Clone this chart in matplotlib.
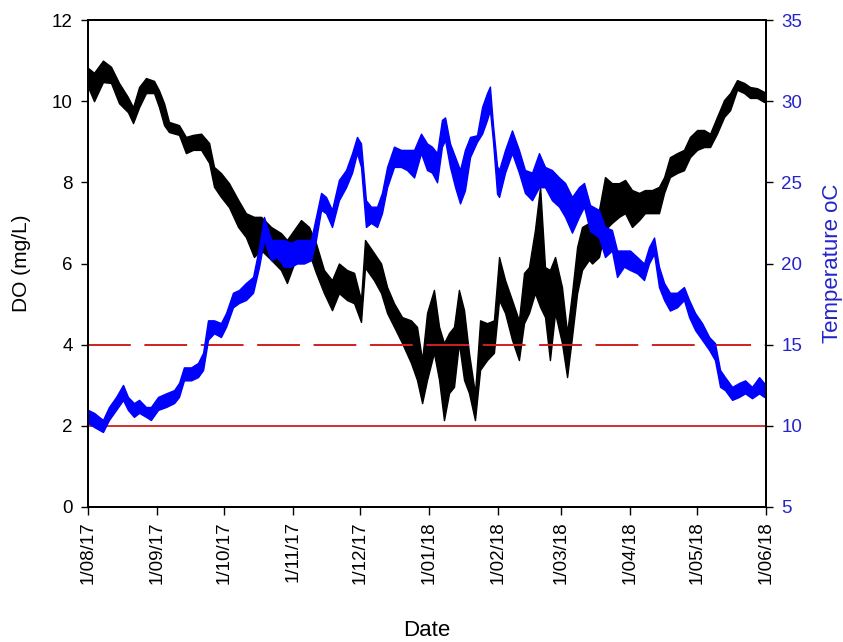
import matplotlib
matplotlib.use("Agg")
import matplotlib.pyplot as plt
import numpy as np
import pandas as pd

plt.rcParams["font.family"] = ["Liberation Sans", "DejaVu Sans"]

start = pd.Timestamp("2017-08-01")

# DO record (mg/L): day offset from 1/08/17, upper and lower edge of the daily band
do_day = [0.0, 2.7, 6.7, 10.3, 13.9, 17.9, 20.2, 22.9, 26.0, 29.6, 31.8, 34.1, 36.3,
          40.8, 43.9, 47.1, 50.7, 54.3, 56.5, 59.6, 63.2, 67.3, 70.8, 74.4, 77.6,
          82.1, 86.5, 89.2, 92.4, 95.5, 99.1, 102.2, 105.8, 109.4, 112.5, 116.1,
          119.3, 122.4, 124.2, 128.2, 131.4, 134.1, 137.2, 140.8, 144.8, 147.5,
          149.8, 152.0, 155.1, 157.4, 159.6, 161.9, 164.1, 166.3, 168.6, 170.8,
          173.5, 175.8, 178.9, 182.0, 184.3, 187.0, 190.1, 193.2, 195.5, 197.7,
          200.4, 202.7, 204.9, 207.1, 209.4, 212.5, 214.8, 217.0, 219.3, 221.5,
          224.6, 226.0, 229.1, 231.8, 234.9, 238.1, 240.8, 243.9, 247.1, 249.7,
          252.9, 256.0, 258.3, 260.9, 264.1, 267.2, 269.9, 273.1, 276.2, 278.9,
          282.0, 285.2, 287.9, 291.0, 294.2, 296.8, 300.0, 303.1]
do_hi = [10.82, 10.7, 11.0, 10.85, 10.45, 10.1, 9.85, 10.35, 10.57, 10.5, 10.27, 9.95,
         9.49, 9.41, 9.12, 9.17, 9.2, 8.97, 8.38, 8.23, 7.98, 7.57, 7.24, 7.15, 7.15,
         6.9, 6.75, 6.58, 6.83, 7.07, 6.9, 6.5, 5.84, 5.59, 6.0, 5.84, 5.77, 5.1,
         6.58, 6.26, 6.0, 5.42, 5.02, 4.68, 4.6, 4.44, 3.62, 4.78, 5.35, 4.44, 4.04,
         4.29, 4.44, 5.35, 4.85, 3.8, 2.8, 4.6, 4.53, 4.6, 6.16, 5.59, 5.1, 4.6,
         5.77, 5.91, 6.83, 7.89, 5.91, 5.84, 6.16, 5.42, 4.29, 5.27, 6.41, 6.9,
         7.0, 7.32, 7.32, 8.13, 7.98, 7.98, 8.06, 7.81, 7.74, 7.81, 7.81, 7.89,
         8.13, 8.62, 8.72, 8.8, 9.12, 9.29, 9.29, 9.2, 9.61, 10.03, 10.2, 10.52,
         10.45, 10.35, 10.32, 10.23]
do_lo = [10.35, 10.0, 10.47, 10.45, 9.95, 9.73, 9.46, 9.85, 10.2, 10.2, 9.86, 9.41,
         9.24, 9.17, 8.72, 8.8, 8.8, 8.48, 7.89, 7.64, 7.39, 6.9, 6.65, 6.16, 6.33,
         6.09, 5.84, 5.52, 6.0, 6.16, 6.26, 5.77, 5.27, 4.85, 5.27, 5.1, 5.02, 4.56,
         5.9, 5.59, 5.27, 4.78, 4.44, 4.04, 3.55, 3.13, 2.56, 3.13, 3.8, 3.13, 2.14,
         2.81, 2.96, 4.04, 3.13, 2.81, 2.14, 3.38, 3.62, 3.8, 5.1, 4.78, 4.12, 3.62,
         4.53, 4.78, 5.27, 4.93, 4.68, 3.62, 4.78, 4.04, 3.2, 4.19, 5.27, 5.84,
         6.09, 6.0, 6.16, 6.83, 7.0, 7.15, 7.24, 6.9, 7.07, 7.24, 7.24, 7.24,
         7.74, 8.13, 8.23, 8.3, 8.62, 8.8, 8.87, 8.87, 9.2, 9.61, 9.78, 10.28,
         10.2, 10.08, 10.08, 9.98]

# Water temperature (oC): day offset, upper and lower edge of the daily band
t_day = [0.0, 2.7, 6.7, 9.4, 12.6, 15.7, 17.9, 20.6, 22.9, 26.0, 28.2, 31.4, 35.0,
         38.6, 40.8, 43.0, 46.2, 49.3, 51.6, 53.8, 56.5, 59.6, 61.9, 65.0, 67.7,
         70.8, 74.0, 76.7, 78.9, 82.1, 84.7, 87.9, 91.0, 93.7, 96.8, 100.0, 102.2,
         104.5, 106.7, 109.4, 112.5, 115.7, 118.4, 120.6, 122.4, 124.6, 126.9,
         129.6, 131.8, 134.1, 137.2, 140.3, 143.0, 146.2, 149.3, 152.0, 154.2,
         156.5, 158.7, 160.1, 162.3, 164.6, 166.8, 169.0, 171.3, 174.4, 176.7,
         178.9, 180.2, 181.6, 183.4, 184.3, 187.0, 190.1, 193.2, 195.9, 199.1,
         202.2, 204.9, 208.0, 211.2, 213.9, 217.0, 220.1, 222.4, 225.1, 229.1,
         231.8, 234.9, 237.2, 240.3, 243.0, 246.2, 249.3, 251.5, 253.8, 256.0,
         258.3, 260.9, 264.1, 267.2, 269.5, 272.2, 275.3, 278.5, 281.1, 283.4,
         285.6, 288.8, 291.9, 294.6, 297.7, 300.9, 303.1]
t_hi = [10.98, 10.8, 10.36, 11.16, 11.78, 12.52, 11.78, 11.4, 11.6, 11.16, 11.16,
        11.78, 12.0, 12.2, 12.64, 13.6, 13.6, 13.87, 14.5, 16.5, 16.5, 16.33, 16.95,
        18.2, 18.37, 18.8, 19.17, 21.0, 22.87, 21.45, 21.45, 21.45, 21.27, 21.45,
        21.45, 21.45, 22.87, 24.35, 24.1, 23.3, 25.15, 25.76, 26.8, 27.8, 27.4,
        23.9, 23.5, 23.5, 24.35, 25.95, 27.2, 27.0, 27.0, 27.0, 28.0, 27.4, 27.2,
        26.8, 28.85, 29.0, 27.4, 26.56, 25.76, 27.0, 27.8, 27.9, 29.65, 30.5, 30.9,
        28.5, 26.0, 25.76, 27.0, 28.2, 27.0, 25.76, 25.6, 26.8, 25.95, 25.76, 25.3,
        24.96, 24.1, 24.7, 24.96, 23.6, 23.3, 22.25, 22.07, 20.8, 20.8, 20.8, 20.4,
        20.0, 21.0, 21.6, 19.8, 18.8, 18.2, 18.2, 18.55, 17.75, 16.95, 16.33, 15.47,
        15.1, 13.44, 13.0, 12.4, 12.64, 12.8, 12.4, 13.0, 12.64]
t_lo = [10.18, 9.93, 9.62, 10.36, 10.98, 11.59, 10.98, 10.55, 10.8, 10.55, 10.36,
        10.98, 11.16, 11.4, 11.78, 12.8, 12.8, 13.0, 13.44, 15.3, 15.7, 15.47, 16.1,
        17.3, 17.57, 17.75, 18.2, 19.8, 21.45, 20.2, 20.4, 19.8, 19.8, 20.0, 20.0,
        20.2, 21.45, 23.3, 23.1, 22.25, 23.9, 24.7, 25.6, 26.8, 25.95, 22.25, 22.5,
        22.25, 23.1, 24.7, 25.95, 25.95, 25.76, 25.3, 26.8, 25.76, 25.6, 25.0, 27.2,
        27.6, 25.95, 24.7, 23.7, 24.5, 26.56, 27.5, 28.0, 28.85, 29.46, 27.5, 24.3,
        24.1, 25.6, 26.8, 25.6, 24.35, 23.9, 24.7, 24.7, 23.9, 23.5, 22.87, 21.9,
        22.87, 23.5, 22.0, 21.6, 20.4, 20.8, 19.17, 19.8, 19.6, 19.4, 18.98, 20.0,
        20.6, 18.55, 17.75, 17.1, 17.3, 17.75, 16.7, 15.9, 15.3, 14.67, 14.05, 12.4,
        12.2, 11.6, 11.78, 12.0, 11.7, 12.0, 11.78]

do_limit = 2      # solid red line
do_target = 4     # dashed red line

tick_dates = pd.date_range("2017-08-01", "2018-06-01", freq="MS")
tick_labels = [d.strftime("%-d/%m/%y") for d in tick_dates]

do_x = start + pd.to_timedelta(do_day, unit="D")
t_x = start + pd.to_timedelta(t_day, unit="D")

fig = plt.figure(figsize=(8.43, 6.42), dpi=100)
ax = fig.add_axes([0.1044, 0.2103, 0.8043, 0.7585])
ax2 = ax.twinx()

ax.fill_between(do_x, do_lo, do_hi, color="black", linewidth=1.0, edgecolor="black")
ax.axhline(do_limit, color="#d02020", linewidth=1.3)
dash = ax.axhline(do_target, color="#d02020", linewidth=1.4)
dash.set_dashes((22, 7))

ax2.fill_between(t_x, t_lo, t_hi, color="#0000ff", linewidth=1.0, edgecolor="#0000ff")

ax.set_xlim(tick_dates[0], tick_dates[-1])
ax.set_ylim(0, 12)
ax.set_yticks(np.arange(0, 13, 2))
ax2.set_ylim(5, 35)
ax2.set_yticks(np.arange(5, 36, 5))

ax.set_xticks(tick_dates)
ax.set_xticklabels(tick_labels, rotation=90, fontsize=13.5)
ax.tick_params(axis="y", labelsize=13.5, direction="out", length=5, width=1, pad=6)
ax.tick_params(axis="x", direction="out", length=6, width=1, pad=4)
ax2.tick_params(axis="y", labelsize=13.5, direction="out", length=5, width=1, pad=6,
                colors="black", labelcolor="#2424c8")

for a in (ax, ax2):
    for s in a.spines.values():
        s.set_linewidth(1.4)
        s.set_color("black")

ax.set_ylabel("DO (mg/L)", fontsize=15, labelpad=15)
ax2.set_ylabel("Temperature oC", fontsize=16, color="#2424c8", labelpad=14)
ax.set_xlabel("Date", fontsize=16, labelpad=26)

fig.savefig("out.png", dpi=100)
